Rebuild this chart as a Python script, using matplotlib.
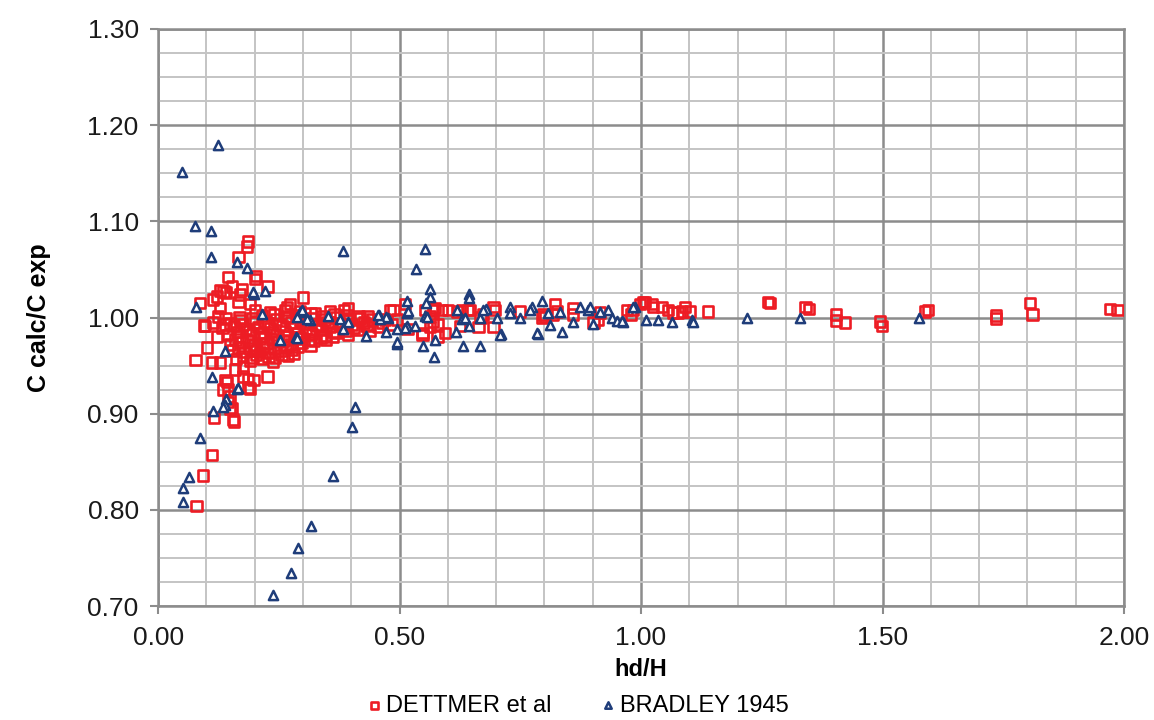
import matplotlib
matplotlib.use("Agg")
import matplotlib.pyplot as plt
from matplotlib.ticker import MultipleLocator, FormatStrFormatter

plt.rcParams['font.family'] = ['Liberation Sans', 'DejaVu Sans']

# DETTMER et al: scattered points first, then the dense cluster at low hd/H
dettmer_x = [
    0.186, 0.184, 0.166, 0.201, 0.145, 0.203, 0.128, 0.141, 0.174, 0.226,
    0.153, 0.135, 0.122, 0.300, 0.087, 0.128, 0.166, 0.267, 0.114, 0.170,
    0.190, 0.273, 0.097, 0.124, 0.095, 0.114, 0.139, 0.168, 0.122, 0.101,
    0.077, 0.112, 0.128, 0.159, 0.176, 0.139, 0.176, 0.197, 0.226, 0.186,
    0.145, 0.186, 0.143, 0.135, 0.190, 0.149, 0.153, 0.155, 0.195, 0.238,
    0.211, 0.145, 0.149, 0.116, 0.157, 0.112, 0.093, 0.079,
    0.385, 0.487, 0.578, 0.433, 0.393, 0.433, 0.464, 0.480, 0.495, 0.547,
    0.563, 0.578, 0.470, 0.484, 0.511, 0.516, 0.553, 0.573, 0.588, 0.569,
    0.563, 0.594, 0.629, 0.642, 0.625, 0.663, 0.694, 0.694, 0.698, 0.749,
    0.797, 0.795, 0.822, 0.818, 0.859, 0.859, 0.901, 0.915, 0.911, 0.979,
    0.998, 1.008, 1.025, 1.043, 1.056, 1.075, 1.091, 1.101, 1.139, 1.263,
    1.267, 1.340, 1.348, 1.404, 1.404, 1.422, 1.495, 1.499, 1.594, 1.588,
    1.735, 1.735, 1.805, 1.810, 1.971, 1.986, 0.983, 1.004, 1.023, 1.066,
    1.085, 0.569, 0.619, 0.646, 0.801, 0.826, 0.971, 0.600, 0.673, 0.667,
    0.547,
    0.201, 0.232, 0.263, 0.294, 0.325, 0.356,
    0.215, 0.240, 0.265, 0.290, 0.315, 0.340, 0.365, 0.390, 0.415,
    0.139, 0.170, 0.195, 0.219, 0.244, 0.269, 0.294, 0.319, 0.344, 0.369,
    0.393, 0.418, 0.443,
    0.150, 0.176, 0.201, 0.226, 0.251, 0.276, 0.301, 0.326, 0.351, 0.376,
    0.401, 0.426,
    0.133, 0.157, 0.182, 0.207, 0.232, 0.257, 0.282, 0.306, 0.331, 0.356,
    0.381, 0.406, 0.431, 0.455,
    0.163, 0.188, 0.213, 0.238, 0.263, 0.288, 0.313, 0.338, 0.363, 0.388,
    0.413, 0.438,
    0.145, 0.170, 0.195, 0.219, 0.244, 0.269, 0.294, 0.319, 0.344, 0.369,
    0.393,
    0.160, 0.186, 0.211, 0.236, 0.261, 0.286, 0.311, 0.336, 0.361,
    0.149, 0.174, 0.199, 0.224, 0.248, 0.273, 0.298, 0.323, 0.348,
    0.166, 0.191, 0.216, 0.240, 0.265, 0.290, 0.315,
    0.153, 0.178, 0.203, 0.228, 0.253, 0.277,
    0.176, 0.203, 0.229, 0.255, 0.281,
    0.161, 0.190, 0.215, 0.242, 0.269,
]
dettmer_y = [
    1.079, 1.074, 1.063, 1.040, 1.042, 1.043, 1.028, 1.026, 1.029, 1.032,
    1.032, 1.027, 1.022, 1.021, 1.015, 1.010, 1.016, 1.011, 1.019, 1.024,
    1.014, 1.014, 0.991, 1.001, 0.992, 0.995, 0.993, 1.000, 0.980, 0.969,
    0.956, 0.953, 0.953, 0.946, 0.948, 0.935, 0.939, 0.935, 0.939, 0.927,
    0.925, 0.936, 0.933, 0.925, 0.926, 0.918, 0.906, 0.894, 0.958, 0.954,
    0.964, 0.912, 0.905, 0.896, 0.892, 0.857, 0.836, 0.804,
    1.008, 1.008, 0.980, 1.001, 1.010, 0.993, 0.995, 1.008, 0.998, 0.982,
    1.001, 0.993, 0.998, 0.993, 1.014, 0.988, 1.008, 1.010, 1.008, 0.996,
    0.990, 0.984, 1.008, 1.008, 0.991, 0.990, 0.990, 1.011, 1.008, 1.006,
    1.003, 1.000, 1.014, 1.003, 1.010, 1.003, 0.995, 1.005, 0.998, 1.003,
    1.014, 1.016, 1.011, 1.011, 1.008, 1.005, 1.011, 1.006, 1.006, 1.016,
    1.015, 1.011, 1.009, 1.003, 0.997, 0.995, 0.996, 0.991, 1.008, 1.006,
    1.002, 0.999, 1.015, 1.003, 1.009, 1.008, 1.008, 1.016, 1.014, 1.005,
    1.006, 1.008, 1.006, 1.008, 1.001, 1.006, 1.008, 1.008, 1.003, 1.000,
    0.984,
    1.007, 1.005, 1.008, 1.006, 1.004, 1.006,
    1.002, 1.003, 1.001, 1.002, 1.004, 1.001, 1.003, 1.002, 1.001,
    0.999, 0.997, 0.999, 0.996, 0.998, 1.000, 0.997, 0.999, 0.998, 1.000,
    0.997, 0.999, 0.998,
    0.994, 0.993, 0.995, 0.994, 0.993, 0.995, 0.994, 0.993, 0.995, 0.994,
    0.993, 0.995,
    0.989, 0.991, 0.988, 0.990, 0.989, 0.991, 0.990, 0.988, 0.991, 0.990,
    0.992, 0.989, 0.991, 0.990,
    0.985, 0.986, 0.984, 0.985, 0.986, 0.984, 0.985, 0.987, 0.985, 0.986,
    0.987, 0.986,
    0.982, 0.980, 0.983, 0.980, 0.982, 0.981, 0.979, 0.983, 0.981, 0.984,
    0.982,
    0.977, 0.976, 0.978, 0.977, 0.976, 0.978, 0.977, 0.979, 0.980,
    0.972, 0.974, 0.971, 0.973, 0.975, 0.972, 0.974, 0.976, 0.977,
    0.969, 0.968, 0.970, 0.968, 0.969, 0.970, 0.971,
    0.966, 0.964, 0.966, 0.963, 0.965, 0.967,
    0.960, 0.961, 0.959, 0.961, 0.962,
    0.957, 0.955, 0.957, 0.958, 0.960,
]

# BRADLEY 1945
bradley_x = [
    0.050, 0.124, 0.077, 0.110, 0.110, 0.164, 0.184, 0.199, 0.222, 0.383,
    0.553, 0.534, 0.563, 0.563, 0.516, 0.555, 0.079, 0.215, 0.294, 0.288,
    0.315, 0.352, 0.377, 0.393, 0.253, 0.286, 0.383, 0.431, 0.458, 0.476,
    0.495, 0.516, 0.516, 0.532, 0.553, 0.549, 0.573, 0.571, 0.139, 0.112,
    0.164, 0.141, 0.139, 0.114, 0.087, 0.064, 0.052, 0.052, 0.408, 0.402,
    0.362, 0.317, 0.290, 0.275, 0.238, 0.644, 0.644, 0.472, 0.460, 0.472,
    0.511, 0.557, 0.619, 0.629, 0.617, 0.631, 0.667, 0.644, 0.667, 0.679,
    0.702, 0.710, 0.729, 0.749, 0.774, 0.795, 0.787, 0.812, 0.836, 0.859,
    0.874, 0.890, 0.901, 0.932, 0.940, 0.950, 0.963, 0.988, 1.010, 1.035,
    1.064, 1.106, 1.108, 1.219, 1.329, 1.576, 0.807, 0.673, 0.636, 0.708,
    0.729, 0.770, 0.785, 0.832, 0.894, 0.915, 0.961, 0.983, 0.298, 0.518,
    0.197, 0.308, 0.288, 0.166, 0.135, 0.455, 0.495, 0.495,
]
bradley_y = [
    1.151, 1.179, 1.095, 1.090, 1.063, 1.058, 1.051, 1.024, 1.028, 1.069,
    1.071, 1.050, 1.030, 1.021, 1.017, 1.015, 1.011, 1.004, 1.006, 1.001,
    0.997, 1.002, 0.998, 0.995, 0.977, 0.980, 0.988, 0.981, 1.003, 0.999,
    0.972, 1.005, 0.991, 0.991, 1.002, 0.970, 0.977, 0.959, 0.965, 0.938,
    0.926, 0.915, 0.909, 0.903, 0.875, 0.834, 0.823, 0.808, 0.907, 0.886,
    0.835, 0.783, 0.760, 0.735, 0.712, 1.024, 1.020, 1.001, 0.998, 0.985,
    0.989, 1.001, 1.008, 0.998, 0.985, 0.970, 0.970, 0.991, 1.000, 1.009,
    1.000, 0.983, 1.011, 0.999, 1.011, 1.017, 0.983, 0.992, 0.985, 0.995,
    1.011, 1.008, 0.993, 1.008, 1.000, 0.996, 0.995, 1.011, 0.997, 0.997,
    0.995, 0.997, 0.995, 0.999, 0.999, 0.999, 1.005, 1.008, 1.000, 0.982,
    1.005, 1.008, 0.984, 1.006, 1.011, 1.006, 0.996, 1.011, 1.008, 1.007,
    1.027, 0.998, 0.979, 0.927, 0.907, 1.003, 0.988, 0.975,
]

RED = "#ED1C24"
BLUE = "#1F3D7A"
MAJOR_GRID = "#8C8C8C"
MINOR_GRID = "#C4C4C4"

fig = plt.figure(figsize=(11.54, 7.2), dpi=100)
ax = fig.add_axes([0.137, 0.158, 0.837, 0.802])

ax.scatter(dettmer_x, dettmer_y, marker="s", s=58, facecolors="none",
           edgecolors=RED, linewidths=1.9, label="DETTMER et al", zorder=3)
ax.scatter(bradley_x, bradley_y, marker="^", s=44, facecolors="white",
           edgecolors=BLUE, linewidths=1.8, label="BRADLEY 1945", zorder=4)

ax.set_xlim(0, 2.0)
ax.set_ylim(0.70, 1.30)
ax.xaxis.set_major_locator(MultipleLocator(0.5))
ax.xaxis.set_minor_locator(MultipleLocator(0.1))
ax.yaxis.set_major_locator(MultipleLocator(0.1))
ax.yaxis.set_minor_locator(MultipleLocator(0.025))
ax.xaxis.set_major_formatter(FormatStrFormatter("%.2f"))
ax.yaxis.set_major_formatter(FormatStrFormatter("%.2f"))

ax.grid(which="minor", color=MINOR_GRID, linewidth=1.4, zorder=0)
ax.grid(which="major", color=MAJOR_GRID, linewidth=1.8, zorder=1)
ax.set_axisbelow(True)

for side in ax.spines.values():
    side.set_color(MAJOR_GRID)
    side.set_linewidth(1.8)

ax.tick_params(which="major", direction="out", length=6, width=1.5,
               color=MAJOR_GRID, labelsize=19, labelcolor="#1a1a1a", pad=8)
ax.tick_params(which="minor", length=0)

ax.set_xlabel("hd/H", fontsize=17, fontweight="bold", labelpad=6)
ax.set_ylabel("C calc/C exp", fontsize=18, fontweight="bold", labelpad=26)

fig.legend(loc="center", bbox_to_anchor=(0.50, 0.02), ncol=2, frameon=False,
           fontsize=17, markerscale=0.7, handletextpad=0.1, columnspacing=2.0,
           handlelength=0.8)

fig.savefig("out.png", dpi=100)
